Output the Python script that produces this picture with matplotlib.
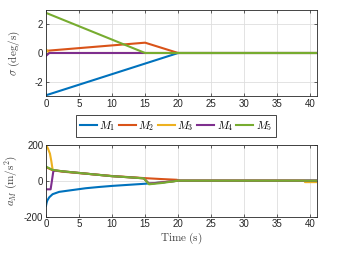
import matplotlib
matplotlib.use('Agg')
import matplotlib.pyplot as plt

# sigma (deg/s) vs time, breakpoints
t_sig_m1 = [0, 20, 41]
sig_m1 = [-2.95, 0, 0]
t_sig_m2 = [0, 15, 20, 41]
sig_m2 = [0.15, 0.72, 0, 0]
t_sig_m3 = [0, 0.5, 41]
sig_m3 = [0.25, 0, 0]
t_sig_m4 = [0, 0.5, 41]
sig_m4 = [-0.2, 0, 0]
t_sig_m5 = [0, 15, 41]
sig_m5 = [2.8, 0, 0]

# a_M (m/s^2) vs time
t_a_m1 = [0, 0.1, 0.2, 0.5, 1, 2, 4, 6, 8, 10, 12.5, 15, 17.5, 20, 41]
a_m1 = [-140, -122, -110, -92, -75, -62, -52, -42, -35, -29, -23, -17, -10, 0, 0]
t_a_m2 = [0, 1, 2.5, 5, 7.5, 10, 12.5, 15, 17.5, 19.8, 20.3, 41]
a_m2 = [75, 58, 50, 42, 34, 26, 20, 14, 9, 5, 0, 0]
t_a_m3 = [0, 0.3, 0.6, 0.8, 1.0, 1.3, 2.5, 5, 7.5, 10, 12.5, 14.8, 15.6, 20, 39.1, 39.2, 41]
a_m3 = [200, 178, 150, 110, 62, 57, 52, 43, 34, 25, 19, 13, -17, 0, 0, -8, -8]
t_a_m4 = [0, 0.7, 0.9, 1.1, 1.3, 2.5, 5, 7.5, 10, 12.5, 14.8, 15.6, 20, 41]
a_m4 = [-48, -48, 0, 50, 57, 52, 43, 34, 25, 19, 13, -17, 0, 0]
t_a_m5 = [0, 1, 2.5, 5, 7.5, 10, 12.5, 14.8, 15.6, 17.5, 20, 41]
a_m5 = [78, 60, 52, 43, 34, 25, 19, 13, -20, -13, 0, 0]

labels = [r'$M_1$', r'$M_2$', r'$M_3$', r'$M_4$', r'$M_5$']
colors = ['#0072BD', '#D95319', '#EDB120', '#7E2F8E', '#77AC30']

plt.rcParams['font.family'] = ['Liberation Sans', 'DejaVu Sans']
plt.rcParams['mathtext.fontset'] = 'cm'
plt.rcParams['axes.unicode_minus'] = False

fig = plt.figure(figsize=(3.5, 2.63), dpi=100)
ax1 = fig.add_axes([0.1314, 0.635, 0.774, 0.327])
ax2 = fig.add_axes([0.1314, 0.176, 0.774, 0.274])

sig_data = [(t_sig_m1, sig_m1), (t_sig_m2, sig_m2), (t_sig_m3, sig_m3),
            (t_sig_m4, sig_m4), (t_sig_m5, sig_m5)]
acc_data = [(t_a_m1, a_m1), (t_a_m2, a_m2), (t_a_m3, a_m3),
            (t_a_m4, a_m4), (t_a_m5, a_m5)]

for (t, v), c, lab in zip(sig_data, colors, labels):
    ax1.plot(t, v, color=c, lw=1.5, label=lab)
for (t, v), c in zip(acc_data, colors):
    ax2.plot(t, v, color=c, lw=1.5)

ax1.set_ylim(-3, 3)
ax1.set_yticks([-2, 0, 2])
ax2.set_ylim(-200, 200)
ax2.set_yticks([-200, 0, 200])

for ax in (ax1, ax2):
    ax.set_xlim(0, 41)
    ax.set_xticks(range(0, 41, 5))
    ax.grid(True, color='#dedede', lw=0.6)
    ax.set_axisbelow(True)
    ax.tick_params(direction='in', length=2.5, width=0.5, top=True, right=True,
                   labelsize=7, colors='#262626', pad=2)
    for s in ax.spines.values():
        s.set_color('#262626')
        s.set_linewidth(0.6)

ax1.set_ylabel(r'$\sigma\ \mathrm{(deg/s)}$', fontsize=8, color='#404040', labelpad=9)
ax2.set_ylabel(r'$a_M\ \mathrm{(m/s^2)}$', fontsize=8, color='#404040', labelpad=3)
ax2.set_xlabel(r'$\mathrm{Time\ (s)}$', fontsize=8, color='#404040', labelpad=1)

fig.legend(*ax1.get_legend_handles_labels(), loc='center', bbox_to_anchor=(0.503, 0.521),
           ncol=5, fontsize=8, frameon=True, fancybox=False, edgecolor='#262626',
           handlelength=1.5, handletextpad=0.25, columnspacing=0.3,
           borderpad=0.35, framealpha=1).get_frame().set_linewidth(0.6)

fig.savefig('out.png', dpi=100)
